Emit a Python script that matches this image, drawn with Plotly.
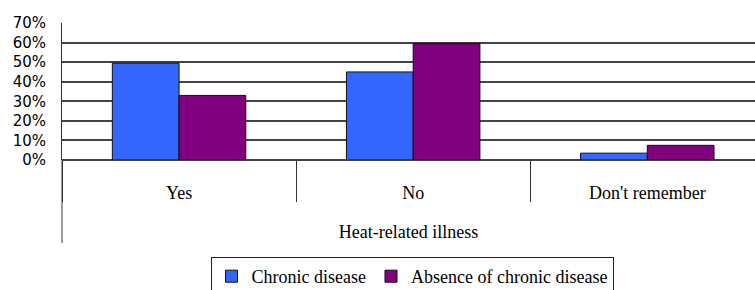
import plotly.graph_objects as go

categories = ["Yes", "No", "Don't remember"]
chronic = [0.495, 0.45, 0.035]
absence = [0.33, 0.595, 0.075]
series_names = ["Chronic disease", "Absence of chronic disease"]
y_ticks = [0, 0.1, 0.2, 0.3, 0.4, 0.5, 0.6, 0.7]
y_tick_labels = ["0%", "10%", "20%", "30%", "40%", "50%", "60%", "70%"]
x_title = "Heat-related illness"

W, H = 755, 290
L, R, T, B = 62, 0, 23, 130
ph = H - T - B

serif = "Liberation Serif"

fig = go.Figure()
fig.add_trace(go.Bar(x=categories, y=chronic, name=series_names[0],
                     marker=dict(color="#3366FF", line=dict(color="#111111", width=1))))
fig.add_trace(go.Bar(x=categories, y=absence, name=series_names[1],
                     marker=dict(color="#800080", line=dict(color="#111111", width=1))))

fig.update_layout(
    width=W, height=H,
    margin=dict(l=L, r=R, t=T, b=B, pad=0, autoexpand=False),
    paper_bgcolor="white", plot_bgcolor="white",
    barmode="group", bargap=0.43, bargroupgap=0,
    showlegend=True,
    legend=dict(orientation="h", x=(412 - L) / (W - L - R), xanchor="center",
                yref="container", y=(H - 257) / H, yanchor="top",
                bordercolor="#222222", borderwidth=1,
                font=dict(family=serif, size=18, color="black"),
                itemwidth=30, tracegroupgap=0, traceorder="normal"),
    xaxis=dict(range=[-0.5, 2.46], showgrid=False, showline=False, automargin=False,
               ticks="outside", tickson="boundaries", ticklen=41,
               tickcolor="#333333", tickwidth=1,
               ticklabelstandoff=20,
               tickfont=dict(family=serif, size=18, color="black"),
               title=dict(text=x_title, font=dict(family=serif, size=18, color="black"),
                          standoff=23)),
    yaxis=dict(range=[0, 0.7], tickvals=y_ticks, ticktext=y_tick_labels, automargin=False,
               showgrid=True, gridcolor="#444444", gridwidth=1.6,
               showline=True, linecolor="#333333", linewidth=1,
               zeroline=True, zerolinecolor="#444444", zerolinewidth=1.6,
               ticks="", ticklabelstandoff=12,
               tickfont=dict(family="DejaVu Sans", size=15, color="black")),
)

# extend vertical axis line below the category area
fig.add_shape(type="line", xref="paper", yref="paper",
              x0=0, x1=0, y0=0, y1=(160 - 243) / ph,
              line=dict(color="#333333", width=1))

fig.write_html("out.html", config={"displayModeBar": False},
               post_script="document.body.style.margin='0';document.body.style.padding='0';")
